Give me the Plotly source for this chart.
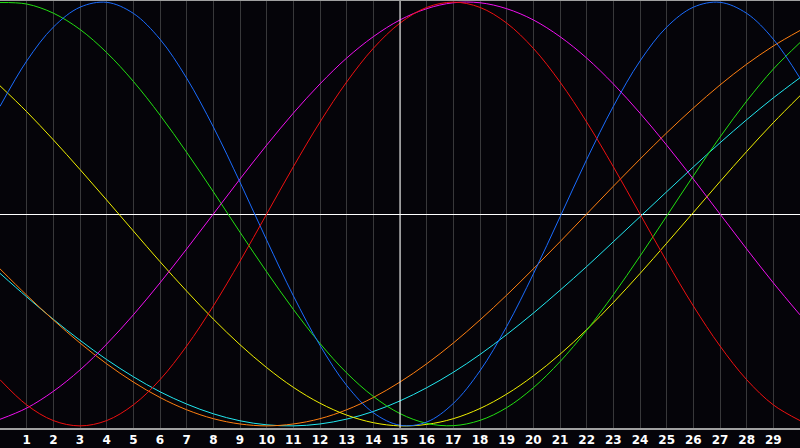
import plotly.graph_objects as go

DAYS = list(range(0, 31))
TICK_DAYS = list(range(1, 30))
TICK_LABELS = [str(d) for d in TICK_DAYS]
TODAY = 15

# values in percent at each day 0..30
RED = [-78.2, -90.1, -97.5, -100, -97.5, -90.1, -78.2, -62.3, -43.4, -22.3, 0, 22.3, 43.4,
       62.3, 78.2, 90.1, 97.5, 100, 97.5, 90.1, 78.2, 62.3, 43.4, 22.3, 0, -22.3, -43.4,
       -62.3, -78.2, -90.1, -97.5]
BLUE = [50.8, 72.2, 88.2, 97.6, 99.9, 94.7, 82.5, 64.1, 41.1, 15.0, -12.3, -38.6, -62.0,
        -80.9, -93.8, -99.7, -98.2, -89.4, -74.0, -53.1, -28.3, -1.4, 25.7, 50.8, 72.2,
        88.2, 97.6, 99.9, 94.7, 82.5, 64.1]
GREEN = [99.8, 99.1, 94.8, 87.1, 76.2, 62.6, 46.7, 29.1, 10.5, -8.6, -27.3, -45.0, -61.1,
         -75.0, -86.1, -94.2, -98.8, -99.9, -97.4, -91.4, -82.0, -69.7, -54.9, -38.1,
         -19.9, -1.0, 18.0, 36.3, 53.3, 68.4, 80.9]
MAGENTA = [-96.9, -91.6, -83.7, -73.6, -61.4, -47.6, -32.5, -16.5, 0, 16.5, 32.5, 47.6,
           61.4, 73.6, 83.7, 91.6, 96.9, 99.7, 99.7, 96.9, 91.6, 83.7, 73.6, 61.4, 47.6,
           32.5, 16.5, 0, -16.5, -32.5, -47.6]
YELLOW = [60.5, 48.3, 35.0, 21.0, 6.6, -8.0, -22.5, -36.4, -49.6, -61.7, -72.5, -81.8,
          -89.3, -94.9, -98.5, -100.0, -99.3, -96.6, -91.8, -85.0, -76.4, -66.2, -54.6,
          -41.8, -28.1, -13.8, 0.7, 15.3, 29.5, 43.1, 55.8]
ORANGE = [-25.9, -38.3, -50.0, -60.9, -70.7, -79.3, -86.6, -92.4, -96.6, -99.1, -100,
          -99.1, -96.6, -92.4, -86.6, -79.3, -70.7, -60.9, -50.0, -38.3, -25.9, -13.1, 0,
          13.1, 25.9, 38.3, 50.0, 60.9, 70.7, 79.3, 86.6]
CYAN = [-28.0, -39.1, -49.7, -59.6, -68.7, -76.8, -83.9, -89.7, -94.3, -97.6, -99.5,
        -100.0, -99.1, -96.8, -93.2, -88.2, -82.0, -74.7, -66.3, -56.9, -46.8, -36.0,
        -24.8, -13.1, -1.3, 10.5, 22.2, 33.6, 44.5, 54.8, 64.3]

SERIES = [
    ("cyan", CYAN, "#22e8f0"),
    ("orange", ORANGE, "#ff7f10"),
    ("yellow", YELLOW, "#f0f000"),
    ("green", GREEN, "#22e011"),
    ("magenta", MAGENTA, "#f010f0"),
    ("blue", BLUE, "#1a6cff"),
    ("red", RED, "#f01010"),
]

BG = "#050409"

fig = go.Figure()
for name, vals, col in SERIES:
    fig.add_trace(go.Scatter(x=DAYS, y=vals, mode="lines", name=name,
                             line=dict(color=col, width=1, shape="spline", smoothing=1.0),
                             hoverinfo="skip"))

fig.add_shape(type="line", xref="x", yref="paper", x0=TODAY, x1=TODAY, y0=0, y1=1,
              line=dict(color="#ffffff", width=1), layer="above")

fig.update_layout(
    width=800, height=448,
    margin=dict(l=0, r=0, t=0, b=20, pad=0),
    paper_bgcolor=BG, plot_bgcolor=BG,
    showlegend=False,
    xaxis=dict(range=[0, 30], tickvals=TICK_DAYS, ticktext=TICK_LABELS,
               showgrid=True, gridcolor="#38383a", gridwidth=1,
               zeroline=False, showline=True, linecolor="#a0a0a0", linewidth=2,
               ticks="", ticklen=0,
               tickfont=dict(family="DejaVu Sans", size=12, color="#ffffff", weight="bold"),
               fixedrange=True),
    yaxis=dict(range=[-101, 101], showgrid=False, zeroline=True,
               zerolinecolor="#ffffff", zerolinewidth=1,
               showticklabels=False, showline=True, linecolor="#a0a0a0", linewidth=2,
               mirror=False, fixedrange=True),
)
fig.add_shape(type="line", xref="paper", yref="paper", x0=0, x1=1, y0=1, y1=1,
              line=dict(color="#a0a0a0", width=2))

fig.write_html("out.html", config={"displayModeBar": False},
               post_script="document.body.style.margin='0';document.body.style.padding='0';document.body.style.overflow='hidden';")
